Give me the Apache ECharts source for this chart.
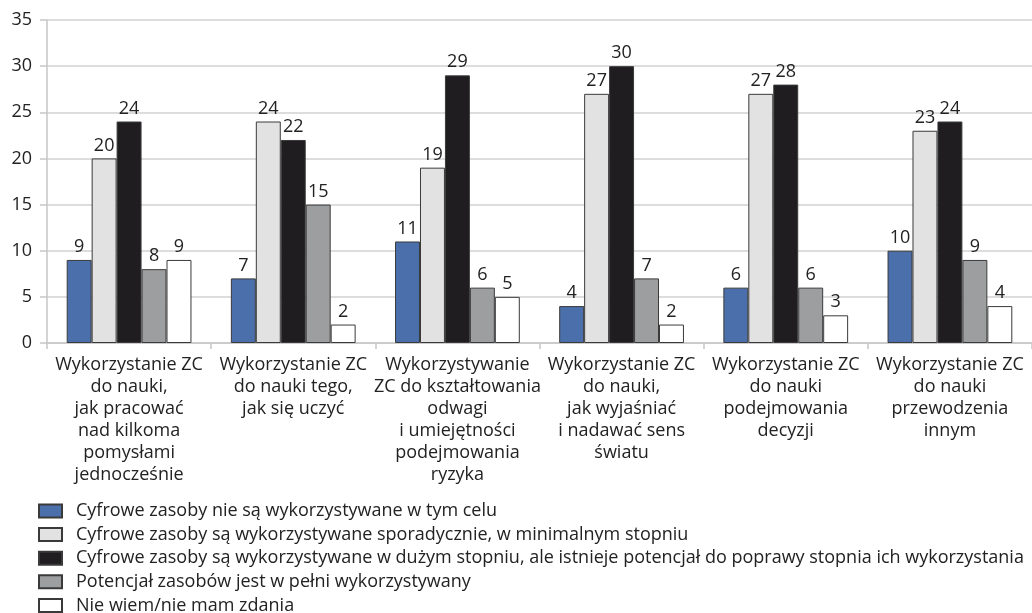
<!DOCTYPE html>
<html>
<head>
<meta charset="utf-8">
<title>chart</title>
<script src="https://cdn.jsdelivr.net/npm/echarts@6/dist/echarts.min.js"></script>
<style>
  html, body { margin: 0; padding: 0; background: #fff; }
  #main { width: 1032px; height: 613px; }
</style>
</head>
<body>
<div id="main"></div>
<script>
// kategorie (oś X)
var categories = [
  "Wykorzystanie ZC\ndo nauki,\njak pracować\nnad kilkoma\npomysłami\njednocześnie",
  "Wykorzystanie ZC\ndo nauki tego,\njak się uczyć",
  "Wykorzystywanie\nZC do kształtowania\nodwagi\ni umiejętności\npodejmowania\nryzyka",
  "Wykorzystanie ZC\ndo nauki,\njak wyjaśniać\ni nadawać sens\nświatu",
  "Wykorzystanie ZC\ndo nauki\npodejmowania\ndecyzji",
  "Wykorzystanie ZC\ndo nauki\nprzewodzenia\ninnym"
]
// nazwy serii (legenda)
var seriesNames = [
  "Cyfrowe zasoby nie są wykorzystywane w tym celu",
  "Cyfrowe zasoby są wykorzystywane sporadycznie, w minimalnym stopniu",
  "Cyfrowe zasoby są wykorzystywane w dużym stopniu, ale istnieje potencjał do poprawy stopnia ich wykorzystania",
  "Potencjał zasobów jest w pełni wykorzystywany",
  "Nie wiem/nie mam zdania"
]
// wartości
var notUsed = [9, 7, 11, 4, 6, 10]
var sporadic = [20, 24, 19, 27, 27, 23]
var largely = [24, 22, 29, 30, 28, 24]
var fullyUsed = [8, 15, 6, 7, 6, 9]
var noOpinion = [9, 2, 5, 2, 3, 4]
// oś Y
var yMin = 0
var yMax = 35
var yStep = 5

var colors = ['#4a6fab', '#e1e2e1', '#1f1d20', '#9d9ea0', '#ffffff']
var values = [notUsed, sporadic, largely, fullyUsed, noOpinion]
var font = 'Open Sans'

var chart = echarts.init(document.getElementById('main'))

var series = []
for (let i = 0; i < values.length; i++) {
  series.push({
    name: seriesNames[i],
    type: 'bar',
    data: values[i],
    barGap: 0,
    barCategoryGap: '24%',
    itemStyle: {
      color: colors[i],
      borderColor: '#3a3a3a',
      borderWidth: 1
    },
    label: {
      show: true,
      position: 'top',
      distance: 4,
      color: '#222',
      fontFamily: font,
      fontSize: 18
    }
  })
}

var option = {
  animation: false,
  backgroundColor: '#fff',
  grid: {
    left: 47,
    right: 0,
    top: 20,
    bottom: 270
  },
  // legenda pionowa pod wykresem, ostatnia pozycja ucięta dołem
  legend: {
    orient: 'vertical',
    left: 33,
    top: 497,
    height: 300,
    itemWidth: 23,
    itemHeight: 13,
    itemGap: 5.6,
    icon: 'rect',
    textStyle: {
      color: '#222',
      fontFamily: font,
      fontSize: 18,
      padding: [0, 0, 0, 9]
    },
    data: seriesNames
  },
  xAxis: {
    type: 'category',
    data: categories,
    axisLine: { lineStyle: { color: '#c6c6c6', width: 1.5 } },
    axisTick: { show: true, length: 6, lineStyle: { color: '#c6c6c6', width: 1.5 } },
    axisLabel: {
      interval: 0,
      margin: 11,
      color: '#222',
      fontFamily: font,
      fontSize: 18,
      lineHeight: 22
    }
  },
  yAxis: {
    type: 'value',
    min: yMin,
    max: yMax,
    interval: yStep,
    axisLine: { show: true, lineStyle: { color: '#c6c6c6', width: 1.5 } },
    axisTick: { show: true, length: 7, lineStyle: { color: '#c6c6c6', width: 1.5 } },
    splitLine: { lineStyle: { color: '#d2d2d2', width: 1.5 } },
    axisLabel: {
      margin: 15,
      color: '#222',
      fontFamily: font,
      fontSize: 18
    }
  },
  series: series
}
chart.setOption(option)
</script>
</body>
</html>
